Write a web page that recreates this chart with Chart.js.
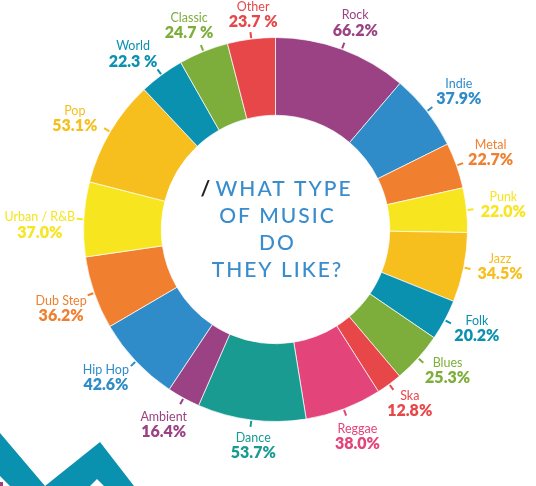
<!DOCTYPE html>
<html>
<head>
<meta charset="utf-8">
<script src="https://cdn.jsdelivr.net/npm/chart.js@4"></script>
<style>
  html, body { margin: 0; padding: 0; background: #fff; }
  #wrap { width: 536px; height: 486px; position: relative; }
</style>
</head>
<body>
<div id="wrap"><canvas id="musicChart" width="536" height="486"></canvas></div>
<script>
// genres, clockwise from 12 o'clock
const categories = ['Rock', 'Indie', 'Metal', 'Punk', 'Jazz', 'Folk', 'Blues', 'Ska', 'Reggae',
  'Dance', 'Ambient', 'Hip Hop', 'Dub Step', 'Urban / R&B', 'Pop', 'World', 'Classic', 'Other'];
const shares = [66.2, 37.9, 22.7, 22.0, 34.5, 20.2, 25.3, 12.8, 38.0,
  53.7, 16.4, 42.6, 36.2, 37.0, 53.1, 22.3, 24.7, 23.7];
// these three are printed with a space before the % sign
const spacedPct = ['World', 'Classic', 'Other'];
const titleLines = ['WHAT TYPE', 'OF MUSIC', 'DO', 'THEY LIKE?'];

const colors = ['#9b4284', '#2f8cc8', '#f08030', '#f7e51f', '#f6bf1e', '#0b91b0', '#7dae3b', '#e8474a', '#e3447a',
  '#199b92', '#9b4284', '#2f8cc8', '#f08030', '#f7e51f', '#f6bf1e', '#0b91b0', '#7dae3b', '#e8474a'];
// small hand nudges for the outside labels [dx, dy]
const labelNudge = [[2, 4], [6, 0], [3, -3], [4, -3], [4, -8], [3, -8], [5, -10], [1, -8], [2, -4],
  [6, -8], [-4, -3], [-6, -7], [-2, 4], [-11, 7], [-7, 3], [-9, 5], [-2, 4], [6, 8]];

const FONT = 'Lato, "Open Sans", sans-serif';

function fmt(i) {
  const v = shares[i].toFixed(1);
  return spacedPct.includes(categories[i]) ? v + ' %' : v + '%';
}

const decoration = {
  id: 'decoration',
  beforeDraw(chart) {
    const ctx = chart.ctx;
    ctx.save();
    ctx.fillStyle = '#0b91b0';
    ctx.beginPath();
    ctx.moveTo(0, 433);
    ctx.lineTo(45, 486);
    ctx.lineTo(100, 442);
    ctx.lineTo(134, 486);
    ctx.lineTo(104, 486);
    ctx.lineTo(97, 479);
    ctx.lineTo(90, 486);
    ctx.lineTo(10, 486);
    ctx.lineTo(0, 476);
    ctx.closePath();
    ctx.fill();
    ctx.fillStyle = '#9b4284';
    ctx.fillRect(0, 482, 3, 4);
    ctx.restore();
  }
};

const outsideLabels = {
  id: 'outsideLabels',
  afterDatasetsDraw(chart) {
    const ctx = chart.ctx;
    const meta = chart.getDatasetMeta(0);
    ctx.save();
    meta.data.forEach((arc, i) => {
      const p = arc.getProps(['x', 'y', 'startAngle', 'endAngle', 'outerRadius'], true);
      const mid = (p.startAngle + p.endAngle) / 2;
      const cos = Math.cos(mid), sin = Math.sin(mid);
      // tick
      ctx.strokeStyle = colors[i];
      ctx.lineWidth = 2;
      ctx.beginPath();
      ctx.moveTo(p.x + cos * (p.outerRadius + 1), p.y + sin * (p.outerRadius + 1));
      ctx.lineTo(p.x + cos * (p.outerRadius + 7), p.y + sin * (p.outerRadius + 7));
      ctx.stroke();
      // label block
      const r = p.outerRadius + 33;
      const lx = p.x + cos * r + labelNudge[i][0];
      const ly = p.y + sin * r + labelNudge[i][1];
      ctx.fillStyle = colors[i];
      ctx.textAlign = 'center';
      ctx.textBaseline = 'middle';
      ctx.font = '400 12.5px ' + FONT;
      ctx.fillText(categories[i], lx, ly - 7);
      ctx.font = '800 16px ' + FONT;
      ctx.fillText(fmt(i), lx, ly + 8);
    });

    // centre title
    const c = meta.data[0];
    const cx = c.x, cy = c.y;
    ctx.font = '500 21px ' + FONT;
    ctx.letterSpacing = '2px';
    ctx.textBaseline = 'middle';
    ctx.textAlign = 'left';
    titleLines.forEach((line, k) => {
      const y = cy + (k - 1.5) * 27;
      ctx.fillStyle = '#3a8dcc';
      if (k === 0) {
        const gap = 15;
        const wL = ctx.measureText(line).width;
        const x0 = cx + 1 - (gap + wL) / 2;
        ctx.fillText(line, x0 + gap, y);
        ctx.letterSpacing = '0px';
        ctx.font = '700 21px ' + FONT;
        ctx.fillStyle = '#222222';
        ctx.fillText('/', x0, y);
        ctx.font = '500 21px ' + FONT;
        ctx.letterSpacing = '2px';
      } else {
        const w = ctx.measureText(line).width;
        ctx.fillText(line, cx - w / 2 + 2, y);
      }
    });
    ctx.restore();
  }
};

new Chart(document.getElementById('musicChart'), {
  type: 'doughnut',
  data: {
    labels: categories,
    datasets: [{
      data: shares,
      backgroundColor: colors,
      borderColor: 'rgba(255,255,255,0.7)',
      borderWidth: 1,
    }],
  },
  options: {
    responsive: false,
    animation: false,
    events: [],
    cutout: '59.5%',
    layout: { padding: { left: 83, right: 68, top: 37, bottom: 64 } },
    plugins: {
      legend: { display: false },
      tooltip: { enabled: false },
    },
  },
  plugins: [decoration, outsideLabels],
});
</script>
</body>
</html>
